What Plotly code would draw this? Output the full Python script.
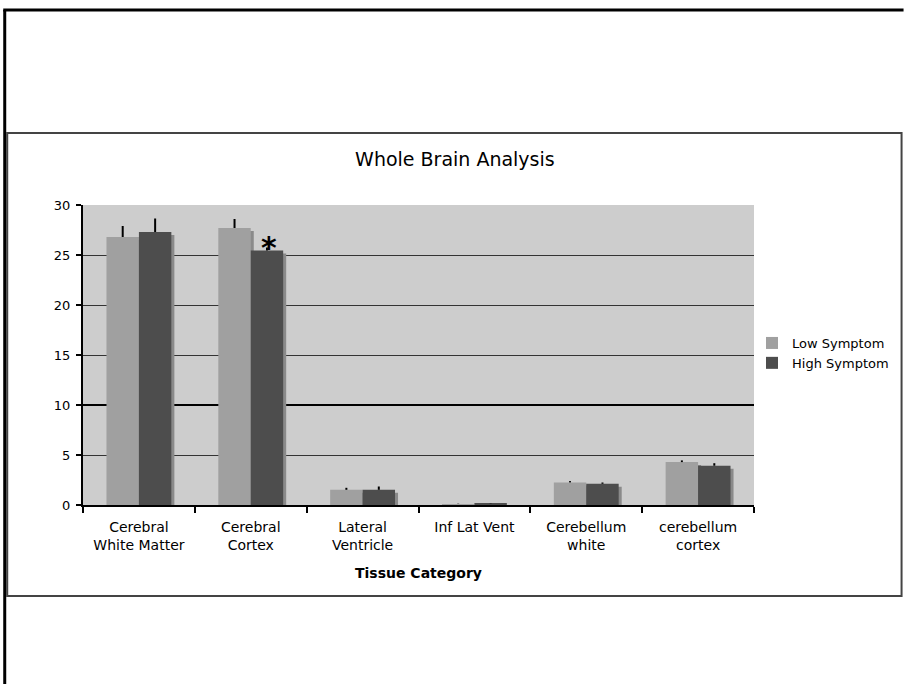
import plotly.graph_objects as go

categories = ["Cerebral<br>White Matter", "Cerebral<br>Cortex", "Lateral<br>Ventricle",
              "Inf Lat Vent", "Cerebellum<br>white", "cerebellum<br>cortex"]
low_symptom = [26.8, 27.7, 1.52, 0.10, 2.26, 4.29]
high_symptom = [27.3, 25.45, 1.52, 0.15, 2.12, 3.93]
low_err = [1.1, 0.9, 0.2, 0.03, 0.13, 0.17]
high_err = [1.35, 0.3, 0.33, 0.03, 0.13, 0.25]
y_ticks = [0, 5, 10, 15, 20, 25, 30]

FONT = "DejaVu Sans"
W = 0.29
SH = 0.027

fig = go.Figure()
# drop shadows behind the bars
for vals, off in [(low_symptom, -W + SH), (high_symptom, SH)]:
    fig.add_trace(go.Bar(x=categories, y=vals, base=-0.3, width=W, offset=off,
                         marker=dict(color="#8a8a8a", line_width=0),
                         showlegend=False, hoverinfo="skip"))
fig.add_trace(go.Bar(x=categories, y=low_symptom, name="Low Symptom", width=W, offset=-W,
                     marker=dict(color="#a0a0a0", line_width=0),
                     error_y=dict(type="data", array=low_err, arrayminus=[0]*6, symmetric=False,
                                  color="black", thickness=2, width=0)))
fig.add_trace(go.Bar(x=categories, y=high_symptom, name="High Symptom", width=W, offset=0,
                     marker=dict(color="#4d4d4d", line_width=0),
                     error_y=dict(type="data", array=high_err, arrayminus=[0]*6, symmetric=False,
                                  color="black", thickness=2, width=0)))

# invisible trace to activate the emphasized-gridline axis
fig.add_trace(go.Scatter(x=[categories[0]], y=[0], yaxis="y2", mode="markers",
                         marker=dict(opacity=0), showlegend=False, hoverinfo="skip"))

fig.add_annotation(x=categories[1], y=high_symptom[1], xref="x", yref="y", text="<b>*</b>",
                   showarrow=False, xshift=18, yanchor="bottom", yshift=-16,
                   font=dict(family=FONT, size=30, color="black"))


def px(x):
    return (x - 83) / 673


def py(y):
    return (505 - y) / 300


fig.add_annotation(x=px(419), y=py(573), xref="paper", yref="paper", text="<b>Tissue Category</b>",
                   showarrow=False, xanchor="center", yanchor="middle",
                   font=dict(family=FONT, size=14, color="black"))

shapes = [
    dict(type="rect", xref="paper", yref="paper", x0=px(7), x1=px(904), y0=py(596), y1=py(133),
         line=dict(color="#444444", width=2), layer="below"),
    dict(type="line", xref="paper", yref="paper", x0=px(3), x1=px(906), y0=py(10), y1=py(10),
         line=dict(color="black", width=3)),
    dict(type="line", xref="paper", yref="paper", x0=px(4.5), x1=px(4.5), y0=py(10), y1=py(684),
         line=dict(color="black", width=3)),
]

fig.update_layout(
    width=906, height=684,
    margin=dict(l=83, r=150, t=205, b=179),
    paper_bgcolor="white", plot_bgcolor="#cdcdcd",
    barmode="overlay",
    title=dict(text="Whole Brain Analysis", x=px(456), xref="paper", xanchor="center",
               y=1 - 159 / 684, yanchor="middle",
               font=dict(family=FONT, size=19, color="black")),
    font=dict(family=FONT, size=13, color="black"),
    showlegend=True,
    legend=dict(x=px(754), y=py(328), xanchor="left", yanchor="top",
                font=dict(family=FONT, size=13, color="black"),
                bgcolor="rgba(0,0,0,0)", itemwidth=30, tracegroupgap=0),
    shapes=shapes,
    xaxis=dict(showline=True, linecolor="black", linewidth=2, ticks="outside",
               tickson="boundaries", ticklen=6, tickwidth=2, tickcolor="black",
               showgrid=False, tickfont=dict(family=FONT, size=14, color="black"),
               ticklabelstandoff=8, range=[-0.5, 5.5]),
    yaxis=dict(range=[0, 30], tickvals=y_ticks, showline=True, linecolor="black", linewidth=2,
               ticks="outside", ticklen=5, tickwidth=1.5, tickcolor="black",
               showgrid=True, gridcolor="#333333", gridwidth=1, zeroline=False,
               ticklabelstandoff=3,
               tickfont=dict(family=FONT, size=13, color="black")),
    yaxis2=dict(range=[0, 30], overlaying="y", tickvals=[10, 30], showticklabels=False,
                showgrid=True, gridcolor="black", gridwidth=2, zeroline=False, showline=False),
)

fig.write_html("out.html", config={"displayModeBar": False},
               post_script="document.body.style.margin='0';document.body.style.overflow='hidden';")
